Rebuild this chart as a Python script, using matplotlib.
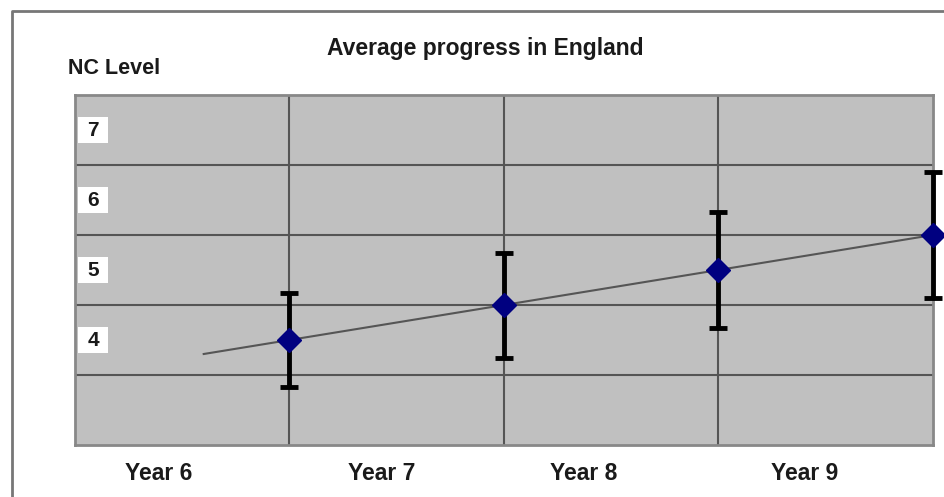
import numpy as np
import matplotlib
matplotlib.use("Agg")
import matplotlib.pyplot as plt
from matplotlib.patches import Rectangle

# data
years = ["Year 6", "Year 7", "Year 8", "Year 9"]
point_x = [1, 2, 3, 4]
avg_level = [4.0, 4.5, 5.0, 5.5]
level_err = [0.67, 0.75, 0.83, 0.9]
trend_x = [0.6, 4.0]
trend_y = [3.8, 5.5]
levels = [4, 5, 6, 7]

plt.rcParams["font.family"] = ["Liberation Sans", "DejaVu Sans"]

fig = plt.figure(figsize=(9.45, 4.97), dpi=100)
ax = fig.add_axes([75 / 945, 1 - 445 / 497, (933 - 75) / 945, 350 / 497])

ax.set_facecolor("#c0c0c0")
ax.set_xlim(0, 4)
ax.set_ylim(2.5, 7.5)

# gridlines sit between the level bands and between the years
ax.set_xticks([1, 2, 3], minor=True)
ax.set_yticks([l - 0.5 for l in levels], minor=True)
ax.grid(which="minor", color="#555555", lw=1.5)
ax.tick_params(which="both", length=0)
ax.set_yticks([])
ax.set_xticks([0.39, 1.43, 2.37, 3.4])
ax.set_xticklabels(years, fontsize=16.5, fontweight="bold", color="#1a1a1a")
ax.tick_params(axis="x", pad=12)
for s in ax.spines.values():
    s.set_color("#888888")
    s.set_linewidth(2)

ax.plot(trend_x, trend_y, color="#555555", lw=1.5, zorder=3)
ax.errorbar(point_x, avg_level, yerr=level_err, fmt="none", ecolor="black",
            elinewidth=3.5, capsize=6.5, capthick=3.5, zorder=4, clip_on=False)
ax.plot(point_x, avg_level, "D", color="#000080", ms=12, zorder=5, clip_on=False)

# white level label boxes at the left of each band
for l in levels:
    ax.add_patch(Rectangle((0.014, l - 0.19), 0.14, 0.38, facecolor="white",
                           edgecolor="none", zorder=2))
    ax.text(0.058, l, str(l), fontsize=15, fontweight="bold", color="#1a1a1a",
            va="center", ha="left", zorder=3)

fig.text(485 / 945, 1 - 49 / 497, "Average progress in England", ha="center",
         va="center", fontsize=16.5, fontweight="bold", color="#1a1a1a")
fig.text(68 / 945, 1 - 69 / 497, "NC Level", ha="left", va="center",
         fontsize=15.5, fontweight="bold", color="#1a1a1a")

# outer chart frame (only left and top are inside the crop)
fig.add_artist(plt.Line2D([12 / 945, 12 / 945, 1], [0, 1 - 11 / 497, 1 - 11 / 497],
                          color="#777777", lw=2, transform=fig.transFigure))

fig.savefig("out.png", dpi=100)
